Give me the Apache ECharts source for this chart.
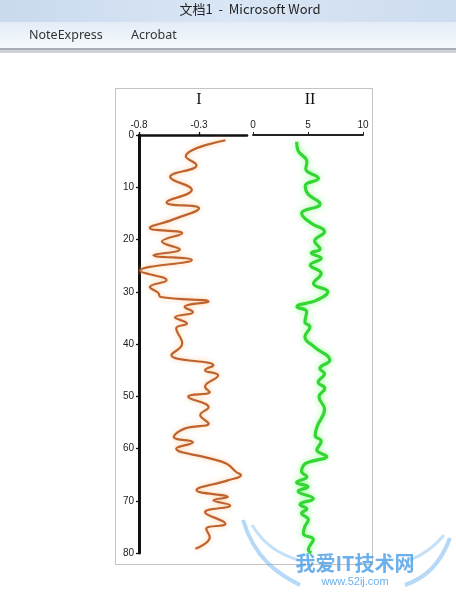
<!DOCTYPE html>
<html><head><meta charset="utf-8">
<script src="https://cdn.jsdelivr.net/npm/echarts@6/dist/echarts.min.js"></script>
<style>html,body{margin:0;padding:0;background:#fff}#c{width:456px;height:593px}</style>
</head><body><div id="c"></div>
<script>
// ---- data ----
const depthI = [1, 4.1, 5.8, 8.0, 10.5, 12.9, 14.0, 16.2, 17.8, 18.8, 20.4, 21.9, 23.0, 23.9, 26.0, 27.8, 29.1, 30.2, 31.0, 31.9, 32.9, 33.9, 34.9, 36.1, 37.0, 39.9, 42.1, 44.1, 45.0, 46.0, 48.2, 49.2, 50.1, 52.1, 53.6, 55.2, 56.2, 57.8, 58.8, 60.0, 61.9, 62.9, 64.5, 65.1, 66.1, 68.0, 69.3, 69.9, 70.9, 72.2, 74.4, 75.4, 77.0, 79.2];
const valueI = [-0.08, -0.41, -0.32, -0.54, -0.36, -0.57, -0.30, -0.52, -0.71, -0.44, -0.61, -0.46, -0.68, -0.36, -0.79, -0.57, -0.71, -0.64, -0.62, -0.22, -0.42, -0.35, -0.50, -0.40, -0.49, -0.44, -0.53, -0.18, -0.25, -0.14, -0.25, -0.21, -0.39, -0.22, -0.29, -0.22, -0.42, -0.51, -0.35, -0.49, -0.21, -0.07, 0.01, 0.05, -0.06, -0.32, -0.06, -0.18, -0.04, -0.25, -0.08, -0.24, -0.21, -0.33];
const depthII = [1.3, 3.0, 5.1, 6.5, 8.3, 9.7, 11.3, 13.2, 15.0, 16.9, 18.5, 20.3, 21.8, 22.6, 23.6, 24.9, 26.5, 28.4, 30.0, 31.6, 32.9, 33.8, 35.8, 36.7, 38.6, 40.6, 43.1, 44.7, 45.7, 47.3, 48.5, 50.1, 52.5, 55.7, 57.5, 58.6, 60.3, 61.5, 62.6, 63.2, 64.4, 65.4, 66.5, 67.3, 68.2, 69.6, 70.7, 71.6, 72.4, 73.6, 75.0, 76.3, 77.4, 79.4, 80.0];
const valueII = [3.97, 4.1, 4.9, 4.8, 5.95, 4.75, 5.0, 6.1, 4.42, 5.3, 6.5, 5.6, 6.1, 5.3, 6.2, 5.2, 6.2, 5.5, 6.8, 5.8, 4.0, 4.88, 4.72, 5.18, 4.72, 5.6, 6.98, 6.08, 6.5, 5.93, 6.53, 6.0, 6.5, 5.85, 5.65, 6.2, 5.8, 6.7, 5.1, 4.6, 4.42, 4.9, 3.97, 5.0, 4.1, 5.48, 4.27, 4.9, 4.42, 5.03, 4.7, 4.58, 5.48, 5.03, 5.3];
const ticksI = [-0.8, -0.3];
const ticksII = [0, 5, 10];
const panelTitles = ['I', 'II'];
const windowTitle = '文档1  -  Microsoft Word';
const menuItems = ['NoteExpress', 'Acrobat'];

const zip = (xs, ys) => xs.map((x, i) => [x, ys[i]]);
const sans = '"Liberation Sans", Arial, sans-serif';

const chart = echarts.init(document.getElementById('c'), null, {renderer: 'canvas'});

const axisCommonY = {
  type: 'value', inverse: true, min: 0, max: 80, interval: 10
};

chart.setOption({
  animation: false,
  backgroundColor: '#ffffff',
  grid: [
    {left: 139, top: 135, width: 108, height: 418},
    {left: 253, top: 135, width: 110, height: 418}
  ],
  xAxis: [
    {
      gridIndex: 0, type: 'value', position: 'top', min: -0.8, max: 0.1,
      axisLine: {show: true, onZero: false, lineStyle: {color: '#111', width: 2.6}},
      axisTick: {show: true, customValues: ticksI, length: 3, lineStyle: {color: '#111', width: 1.3}},
      axisLabel: {show: true, customValues: ticksI, fontSize: 10, color: '#222', margin: 5, fontFamily: sans},
      splitLine: {show: false}
    },
    {
      gridIndex: 1, type: 'value', position: 'top', min: 0, max: 10, interval: 5,
      axisLine: {show: true, onZero: false, lineStyle: {color: '#222', width: 1.8}},
      axisTick: {show: true, length: 3, lineStyle: {color: '#222', width: 1}},
      axisLabel: {show: true, fontSize: 10, color: '#222', margin: 5, fontFamily: sans},
      splitLine: {show: false}
    }
  ],
  yAxis: [
    Object.assign({}, axisCommonY, {
      gridIndex: 0,
      axisLine: {show: true, onZero: false, lineStyle: {color: '#111', width: 3}},
      axisTick: {show: true, length: 3, lineStyle: {color: '#111', width: 1.3}},
      axisLabel: {show: true, fontSize: 10, color: '#222', margin: 5, fontFamily: sans},
      splitLine: {show: false}
    }),
    Object.assign({}, axisCommonY, {
      gridIndex: 1,
      axisLine: {show: false, onZero: false},
      axisTick: {show: false},
      axisLabel: {show: false},
      splitLine: {show: false}
    })
  ],
  series: [
    {
      type: 'line', xAxisIndex: 0, yAxisIndex: 0, data: zip(valueI, depthI),
      symbol: 'none', smooth: 0.45, clip: false,
      lineStyle: {color: '#BF632E', width: 2.2, shadowColor: 'rgba(250,185,120,0.75)', shadowBlur: 5}
    },
    {
      type: 'line', xAxisIndex: 1, yAxisIndex: 1, data: zip(valueII, depthII),
      symbol: 'none', smooth: 0.45, clip: false,
      lineStyle: {color: '#33D633', width: 3.2, shadowColor: 'rgba(130,255,130,0.85)', shadowBlur: 6}
    }
  ],
  graphic: [
    // Word window chrome
    {type: 'rect', z: -10, shape: {x: 0, y: 0, width: 456, height: 22},
      style: {fill: new echarts.graphic.LinearGradient(0, 0, 1, 0, [
        {offset: 0, color: '#c9d9ee'}, {offset: 0.5, color: '#d9e6f5'}, {offset: 1, color: '#cddcef'}])}},
    {type: 'rect', z: -10, shape: {x: 0, y: 22, width: 456, height: 26},
      style: {fill: new echarts.graphic.LinearGradient(0, 0, 0, 1, [
        {offset: 0, color: '#e3ecf7'}, {offset: 1, color: '#f6f9fd'}])}},
    {type: 'rect', z: -10, shape: {x: 0, y: 48, width: 456, height: 2}, style: {fill: '#a9adb4'}},
    {type: 'rect', z: -10, shape: {x: 0, y: 50, width: 456, height: 3}, style: {fill: '#cfd3d9'}},
    {type: 'text', x: 250, y: 9, style: {text: windowTitle, font: '13px "Noto Sans CJK SC", "Liberation Sans", sans-serif', fill: '#1f1f1f', align: 'center', verticalAlign: 'middle'}},
    {type: 'text', x: 29, y: 35, style: {text: menuItems[0], font: '12.5px "Noto Sans", "Liberation Sans", sans-serif', fill: '#333', align: 'left', verticalAlign: 'middle'}},
    {type: 'text', x: 131, y: 35, style: {text: menuItems[1], font: '12.5px "Noto Sans", "Liberation Sans", sans-serif', fill: '#333', align: 'left', verticalAlign: 'middle'}},
    // chart frame
    {type: 'rect', z: -5, shape: {x: 115.5, y: 88.5, width: 257, height: 476},
      style: {fill: 'none', stroke: '#c4c4c4', lineWidth: 1}},
    // panel titles
    {type: 'text', x: 199, y: 100, style: {text: panelTitles[0], font: '16px "Liberation Serif", "DejaVu Serif", serif', fill: '#111', align: 'center', verticalAlign: 'middle'}},
    {type: 'text', x: 310, y: 100, style: {text: panelTitles[1], font: '16px "Liberation Serif", "DejaVu Serif", serif', fill: '#111', align: 'center', verticalAlign: 'middle'}},
    // watermark
    {type: 'bezierCurve', z: 50, shape: {x1: 243, y1: 520, cpx1: 255, cpy1: 560, cpx2: 280, cpy2: 575, x2: 300, y2: 585}, style: {stroke: 'rgba(90,170,235,0.45)', lineWidth: 4, fill: 'none'}},
    {type: 'bezierCurve', z: 50, shape: {x1: 252, y1: 525, cpx1: 266, cpy1: 548, cpx2: 283, cpy2: 555, x2: 298, y2: 560}, style: {stroke: 'rgba(90,170,235,0.35)', lineWidth: 3, fill: 'none'}},
    {type: 'bezierCurve', z: 50, shape: {x1: 450, y1: 538, cpx1: 440, cpy1: 565, cpx2: 425, cpy2: 578, x2: 405, y2: 585}, style: {stroke: 'rgba(90,170,235,0.45)', lineWidth: 4, fill: 'none'}},
    {type: 'bezierCurve', z: 50, shape: {x1: 444, y1: 535, cpx1: 432, cpy1: 550, cpx2: 420, cpy2: 556, x2: 410, y2: 560}, style: {stroke: 'rgba(90,170,235,0.35)', lineWidth: 3, fill: 'none'}},
    {type: 'text', z: 60, x: 355, y: 563, style: {text: '我爱IT技术网', font: 'bold 20px "Noto Sans CJK SC", sans-serif', fill: 'rgba(70,155,230,0.8)', align: 'center', verticalAlign: 'middle'}},
    {type: 'text', z: 60, x: 355, y: 582, style: {text: 'www.52ij.com', font: '11px "Liberation Sans", sans-serif', fill: 'rgba(70,155,230,0.8)', align: 'center', verticalAlign: 'middle'}}
  ]
});
</script>
</body></html>
